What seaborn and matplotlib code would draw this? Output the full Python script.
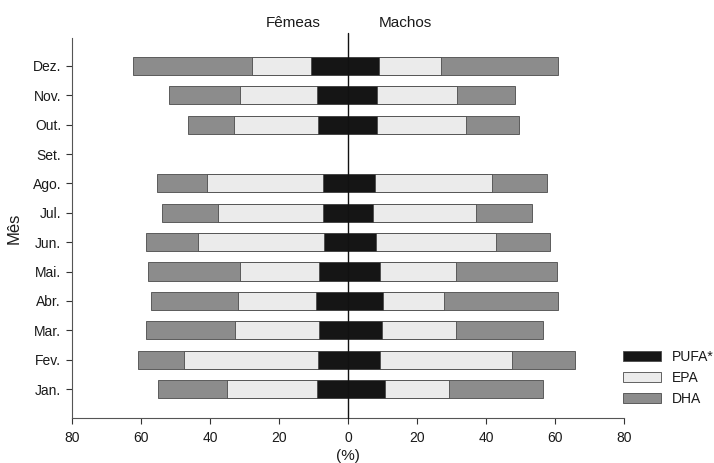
import numpy as np
import pandas as pd
import matplotlib
matplotlib.use("Agg")
import matplotlib.pyplot as plt
import seaborn as sns
from matplotlib.patches import Patch

# ---- data (percent), months from top (Dez.) to bottom (Jan.) ----
months = ["Dez.", "Nov.", "Out.", "Set.", "Ago.", "Jul.", "Jun.", "Mai.", "Abr.", "Mar.", "Fev.", "Jan."]
# Females (Fêmeas) segment widths
fem_pufa = [10.8, 9.1, 8.6, np.nan, 7.2, 7.2, 6.9, 8.3, 9.3, 8.3, 8.6, 9.1]
fem_epa  = [17.0, 22.2, 24.6, np.nan, 33.8, 30.4, 36.5, 23.0, 22.7, 24.5, 39.1, 26.1]
fem_dha  = [34.6, 20.5, 13.3, np.nan, 14.3, 16.2, 15.2, 26.6, 25.2, 25.8, 13.1, 19.8]
# Males (Machos) segment widths
mal_pufa = [9.0, 8.5, 8.3, np.nan, 7.8, 7.3, 8.0, 9.3, 10.2, 9.9, 9.3, 10.7]
mal_epa  = [17.9, 23.0, 25.8, np.nan, 34.0, 29.8, 34.8, 22.0, 17.6, 21.4, 38.3, 18.6]
mal_dha  = [34.0, 16.9, 15.5, np.nan, 15.8, 16.3, 15.8, 29.4, 33.2, 25.3, 18.2, 27.3]

series_labels = ["PUFA*", "EPA", "DHA"]
colors = {"PUFA*": "#151515", "EPA": "#ebebeb", "DHA": "#8c8c8c"}

df = pd.DataFrame({
    "mes": months,
    "fp": fem_pufa, "fe": fem_epa, "fd": fem_dha,
    "mp": mal_pufa, "me": mal_epa, "md": mal_dha,
}).dropna()
# cumulative extents (outermost drawn first so inner segments overlay)
df["f_dha_end"] = -(df.fp + df.fe + df.fd)
df["f_epa_end"] = -(df.fp + df.fe)
df["f_pufa_end"] = -df.fp
df["m_dha_end"] = df.mp + df.me + df.md
df["m_epa_end"] = df.mp + df.me
df["m_pufa_end"] = df.mp

sns.set_style("white")
plt.rcParams["font.family"] = ["Liberation Sans", "DejaVu Sans"]
plt.rcParams["text.color"] = "#1a1a1a"
plt.rcParams["axes.labelcolor"] = "#1a1a1a"
plt.rcParams["xtick.color"] = "#1a1a1a"
plt.rcParams["ytick.color"] = "#1a1a1a"

fig = plt.figure(figsize=(7.14, 4.63), dpi=100)
ax = fig.add_axes([0.101, 0.097, 0.773, 0.821])

bw = 0.62
kw = dict(orient="h", order=months, width=bw, saturation=1,
          edgecolor="#4a4a4a", linewidth=0.6, ax=ax, errorbar=None)
for side in ["f", "m"]:
    sns.barplot(data=df, x=f"{side}_dha_end", y="mes", color=colors["DHA"], **kw)
    sns.barplot(data=df, x=f"{side}_epa_end", y="mes", color=colors["EPA"], **kw)
    sns.barplot(data=df, x=f"{side}_pufa_end", y="mes", color=colors["PUFA*"], **kw)

ax.set_xlim(-80, 80)
ax.set_ylim(11.99, -0.95)
ticks = [-80, -60, -40, -20, 0, 20, 40, 60, 80]
ax.set_xticks(ticks)
ax.set_xticklabels([str(abs(t)) for t in ticks], fontsize=10)
ax.tick_params(axis="y", labelsize=10, length=4, width=0.8, color="#333333", left=True, pad=4)
ax.tick_params(axis="x", length=4, width=0.8, color="#333333", bottom=True, pad=5)
ax.set_xlabel("(%)", fontsize=11, labelpad=3)
ax.set_ylabel("Mês", fontsize=12, labelpad=8)

for s in ["top", "right"]:
    ax.spines[s].set_visible(False)
for s in ["left", "bottom"]:
    ax.spines[s].set_color("#555555")
    ax.spines[s].set_linewidth(0.8)

ax.axvline(0, ymin=0, ymax=1.013, color="#111111", linewidth=1.0, clip_on=False, zorder=5)

fig.text(293.5 / 714, 1 - 23 / 463, "Fêmeas", ha="center", va="center", fontsize=11)
fig.text(405 / 714, 1 - 23 / 463, "Machos", ha="center", va="center", fontsize=11)

handles = [Patch(facecolor=colors[k], edgecolor="#4a4a4a", linewidth=0.6) for k in series_labels]
fig.legend(handles, series_labels, loc="center left",
           bbox_to_anchor=(623 / 714, 1 - 378 / 463), bbox_transform=fig.transFigure,
           frameon=False, fontsize=10, handlelength=2.7, handleheight=0.7,
           labelspacing=0.5, handletextpad=0.8, borderpad=0, borderaxespad=0)

fig.savefig("out.png", dpi=100)
